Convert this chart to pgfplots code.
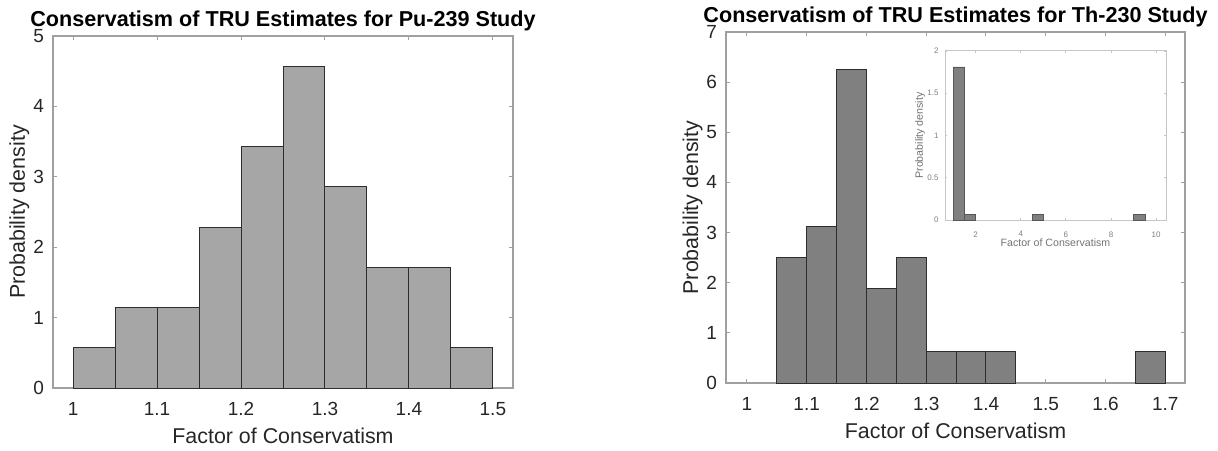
\documentclass[border=0pt]{standalone}
\usepackage{fontspec}
\setmainfont{Liberation Sans}
\usepackage{pgfplots}
\pgfplotsset{compat=1.18}

\definecolor{axgray}{RGB}{160,160,160}
\definecolor{lblgray}{RGB}{38,38,38}
\definecolor{barL}{RGB}{166,166,166}
\definecolor{barR}{RGB}{128,128,128}
\definecolor{edge}{RGB}{45,45,45}

\pgfplotsset{
  matlab/.style={
    scale only axis,
    axis background/.style={fill=white},
    axis line style={axgray, line width=0.6pt},
    tick style={axgray, line width=0.5pt},
    tick align=inside, xtick pos=both, ytick pos=both,
    major tick length=2pt,
    /pgf/number format/assume math mode=true,
    every axis title/.style={at={(0.5,1)}, anchor=base, yshift=5pt,
      font=\bfseries\fontsize{10.8}{12}\selectfont},
    ymin=0,
  },
  bigaxis/.style={
    tick label style={font=\fontsize{9.5}{11}\selectfont, text=lblgray},
    xticklabel style={yshift=-3.5pt},
    yticklabel style={xshift=-1pt},
    every axis x label/.style={at={(axis description cs:0.5,0)}, anchor=base, yshift=-27.5pt,
      font=\fontsize{10.7}{12}\selectfont, text=lblgray},
    every axis y label/.style={at={(axis description cs:-0.061,0.5)}, anchor=base, rotate=90,
      font=\fontsize{10.7}{12}\selectfont, text=lblgray},
  },
}

\begin{document}
\begin{tikzpicture}
\path[use as bounding box] (0,0) rectangle (609pt,225pt);

% Pu-239
\begin{axis}[matlab, bigaxis,
    at={(26.5pt,31pt)}, anchor=south west,
    width=230pt, height=176pt,
    xmin=0.976, xmax=1.524, ymax=5,
    xtick={1,1.1,1.2,1.3,1.4,1.5},
    ytick={0,1,2,3,4,5},
    xlabel={Factor of Conservatism},
    ylabel={Probability density},
    title={Conservatism of TRU Estimates for Pu-239 Study},
]
\addplot[ybar interval, fill=barL, draw=edge, line width=0.5pt] coordinates {
  (1.00,0.571) (1.05,1.143) (1.10,1.143) (1.15,2.286) (1.20,3.429)
  (1.25,4.571) (1.30,2.857) (1.35,1.714) (1.40,1.714) (1.45,0.571) (1.50,0)
};
\end{axis}

% Th-230
\begin{axis}[matlab, bigaxis,
    at={(363pt,33.5pt)}, anchor=south west,
    width=229.5pt, height=175.5pt,
    xmin=0.965, xmax=1.733, ymax=7,
    xtick={1,1.1,1.2,1.3,1.4,1.5,1.6,1.7},
    ytick={0,1,2,3,4,5,6,7},
    xlabel={Factor of Conservatism},
    ylabel={Probability density},
    title={Conservatism of TRU Estimates for Th-230 Study},
]
\addplot[ybar interval, fill=barR, draw=edge, line width=0.5pt] coordinates {
  (1.05,2.5) (1.10,3.125) (1.15,6.25) (1.20,1.875) (1.25,2.5)
  (1.30,0.625) (1.35,0.625) (1.40,0.625) (1.45,0)
};
\addplot[ybar interval, fill=barR, draw=edge, line width=0.5pt] coordinates {
  (1.65,0.625) (1.70,0)
};
\end{axis}

% inset
\begin{axis}[matlab,
    at={(472.5pt,115pt)}, anchor=south west,
    width=110.5pt, height=84.5pt,
    axis line style={gray!45, line width=0.5pt},
    tick style={gray!45, line width=0.4pt},
    major tick length=1pt,
    xmin=0.64, xmax=10.44, ymax=2,
    xtick={2,4,6,8,10},
    ytick={0,0.5,1,1.5,2},
    tick label style={font=\fontsize{4}{5}\selectfont, text=gray},
    xticklabel style={yshift=-2.2pt},
    yticklabel style={xshift=0.3pt},
    every axis x label/.style={at={(axis description cs:0.5,0)}, anchor=base, yshift=-13pt,
      font=\fontsize{5.3}{6}\selectfont, text=gray!90!black},
    every axis y label/.style={at={(axis description cs:-0.1,0.5)}, anchor=base, rotate=90,
      font=\fontsize{5.3}{6}\selectfont, text=gray!90!black},
    xlabel={Factor of Conservatism},
    ylabel={Probability density},
]
\addplot[ybar interval, fill=barR, draw=edge!80, line width=0.3pt] coordinates {
  (1.0,1.8125) (1.5,0.0625) (2.0,0)
};
\addplot[ybar interval, fill=barR, draw=edge!80, line width=0.3pt] coordinates {
  (4.5,0.0625) (5.0,0)
};
\addplot[ybar interval, fill=barR, draw=edge!80, line width=0.3pt] coordinates {
  (9.0,0.0625) (9.5,0)
};
\end{axis}
\end{tikzpicture}
\end{document}
